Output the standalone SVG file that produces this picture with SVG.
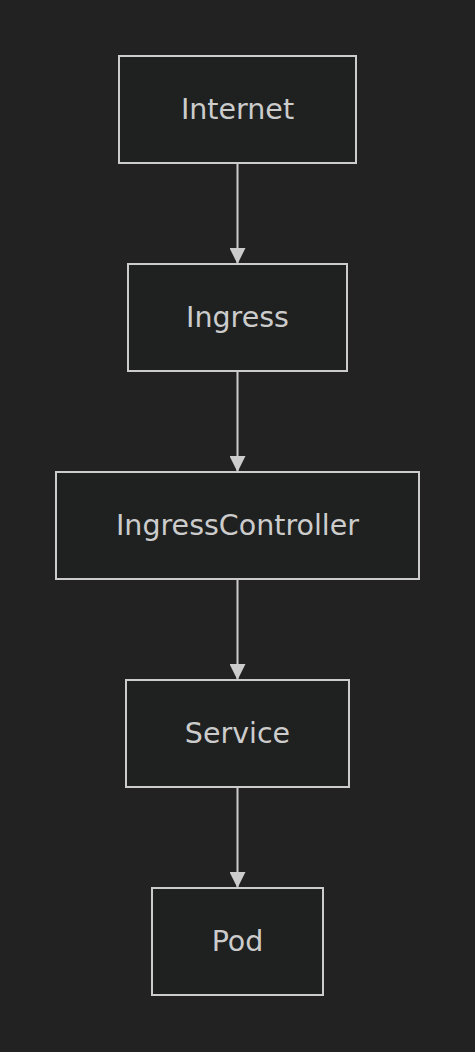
<svg xmlns="http://www.w3.org/2000/svg" width="475" height="1052" viewBox="0 0 475 1052">
<style>
.node rect{fill:#1f2020;stroke:#cccccc;stroke-width:2}
.node text{fill:#cccccc;font-family:"DejaVu Sans",sans-serif;font-size:28.5px;text-anchor:middle;dominant-baseline:central}
.edge{stroke:#cccccc;stroke-width:2;fill:none}
</style>
<defs>
<marker id="arr" markerWidth="16" markerHeight="16" refX="16" refY="8" orient="auto" markerUnits="userSpaceOnUse">
<path d="M0,0 L16,8 L0,16 Z" fill="#cccccc"/>
</marker>
</defs>
<rect width="475" height="1052" fill="#222222"/>
<g id="connectors">
<line class="edge" x1="237.5" y1="164" x2="237.5" y2="264" marker-end="url(#arr)"/>
<line class="edge" x1="237.5" y1="372" x2="237.5" y2="472" marker-end="url(#arr)"/>
<line class="edge" x1="237.5" y1="580" x2="237.5" y2="680" marker-end="url(#arr)"/>
<line class="edge" x1="237.5" y1="788" x2="237.5" y2="888" marker-end="url(#arr)"/>
</g>
<g id="Internet" class="node"><rect x="119" y="56" width="237" height="107"/><text x="237.5" y="109">Internet</text></g>
<g id="Ingress" class="node"><rect x="128" y="264" width="219" height="107"/><text x="237.5" y="317">Ingress</text></g>
<g id="IngressController" class="node"><rect x="56" y="472" width="363" height="107"/><text x="237.5" y="525">IngressController</text></g>
<g id="Service" class="node"><rect x="126" y="680" width="223" height="107"/><text x="237.5" y="733">Service</text></g>
<g id="Pod" class="node"><rect x="152" y="888" width="171" height="107"/><text x="237.5" y="941">Pod</text></g>
</svg>
